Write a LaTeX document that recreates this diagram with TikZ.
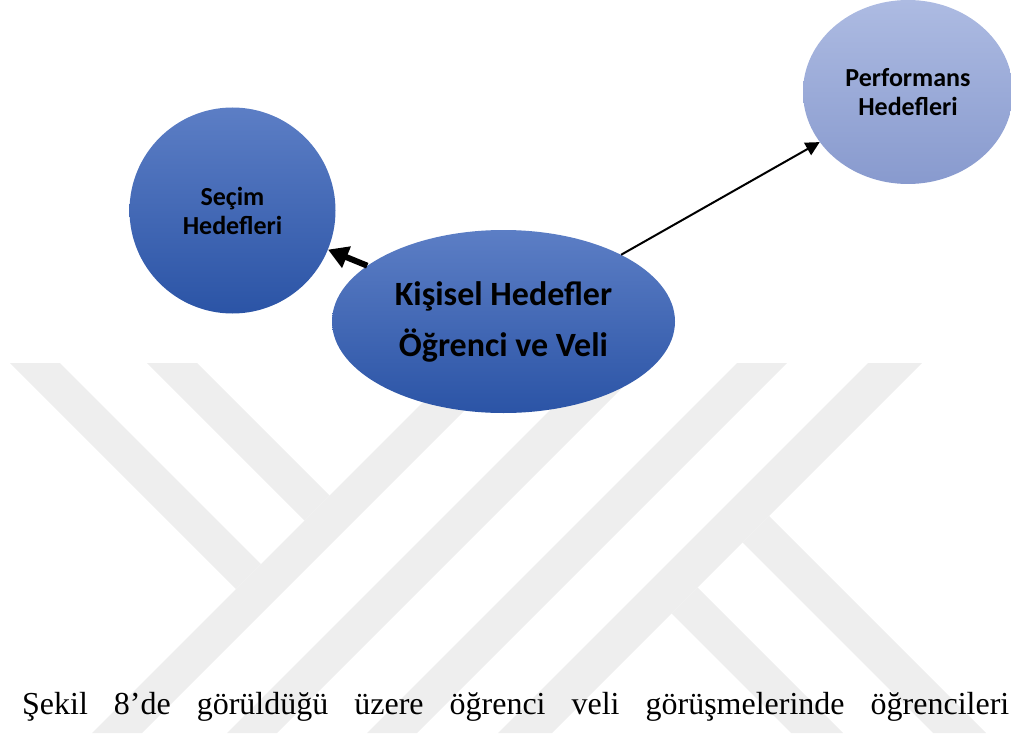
\documentclass[tikz,border=0pt]{standalone}
\usepackage{fontspec}
\setmainfont{Carlito}
\newfontfamily\metinfont{Liberation Serif}
\usetikzlibrary{shapes.geometric,arrows.meta}
\definecolor{maviust}{RGB}{92,126,197}
\definecolor{mavialt}{RGB}{43,84,166}
\definecolor{acikust}{RGB}{173,187,226}
\definecolor{acikalt}{RGB}{136,154,206}
\definecolor{filigran}{RGB}{238,238,238}

\begin{document}
\begin{tikzpicture}[x=1pt, y=-1pt,
			hedef/.style={ellipse, inner sep=0pt, align=center, font=\bfseries\fontsize{26}{29}\selectfont},
			koyu/.style={hedef, top color=maviust, bottom color=mavialt},
			acik/.style={hedef, top color=acikust, bottom color=acikalt},
			bant/.style={fill=filigran, draw=none}]
			\useasboundingbox (0,0) rectangle (1011,738);
			\begin{scope}
				\clip (0,363) rectangle (1011,733);
				\fill[bant] (10,363) -- (60,363) -- (261,564) -- (236,589) -- cycle;
				\fill[bant] (147,363) -- (197,363) -- (329.5,495.5) -- (304.5,520.5) -- cycle;
				\fill[bant] (92,733) -- (142,733) -- (512,363) -- (462,363) -- cycle;
				\fill[bant] (227,733) -- (277,733) -- (647,363) -- (597,363) -- cycle;
				\fill[bant] (367,733) -- (417,733) -- (787,363) -- (737,363) -- cycle;
				\fill[bant] (498,733) -- (552,733) -- (922,363) -- (868,363) -- cycle;
				\fill[bant] (769,516) -- (986,733) -- (933,733) -- (742.5,542.5) -- cycle;
				\fill[bant] (697.5,587.5) -- (843,733) -- (791,733) -- (671.5,613.5) -- cycle;
			\end{scope}
			\node[koyu, minimum width=343pt, minimum height=183pt, font=\bfseries\fontsize{34}{51}\selectfont] (kisisel) at (503.5,321.5) {Kişisel Hedefler\\Öğrenci ve Veli};
			\node[koyu, circle, minimum size=206pt] (secim) at (232.5,210.5) {Seçim\\Hedefleri};
			\node[acik, minimum width=210pt, minimum height=184pt] (perf) at (908,92) {Performans\\Hedefleri};
			\draw[line width=6pt, -{Triangle[length=20pt, width=22pt]}] (kisisel) -- (secim);
			\draw[line width=2pt, -{Triangle[length=14pt, width=14pt]}] (kisisel) -- (perf);
			\node[anchor=base west, inner sep=0pt, font=\metinfont\fontsize{32}{38}\selectfont] (metin) at (22,714)
				{\makebox[987pt][s]{Şekil 8’de görüldüğü üzere öğrenci veli görüşmelerinde öğrencileri}};
		\end{tikzpicture}
\end{document}
